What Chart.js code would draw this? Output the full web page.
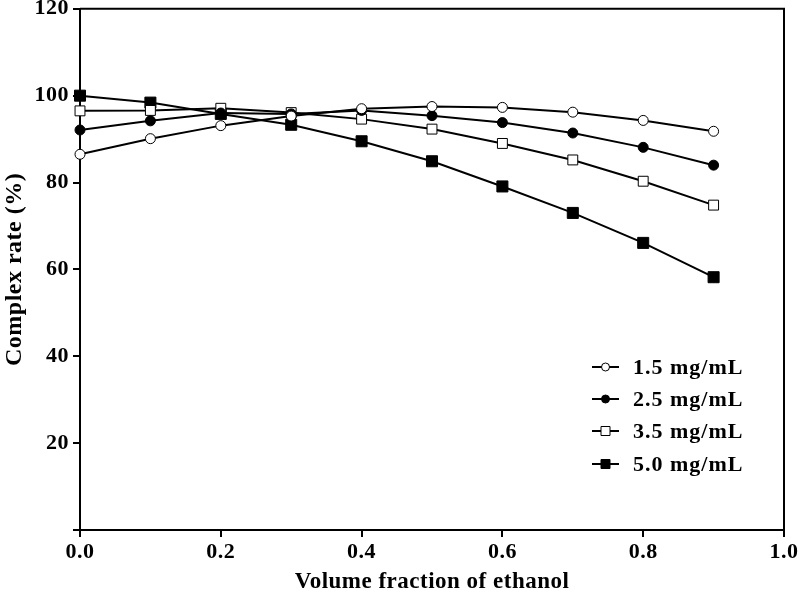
<!DOCTYPE html>
<html>
<head>
<meta charset="utf-8">
<style>
  html, body { margin: 0; padding: 0; background: #fff; }
  #wrap { width: 799px; height: 592px; }
</style>
<script src="https://cdn.jsdelivr.net/npm/chart.js@4/dist/chart.umd.min.js"></script>
</head>
<body>
<div id="wrap"><canvas id="chart" width="799" height="592"></canvas></div>
<script>
// ethanol volume fraction (x)
const fractions = [0.0, 0.1, 0.2, 0.3, 0.4, 0.5, 0.6, 0.7, 0.8, 0.9];

// complex rate (%) per concentration
const conc15 = [86.5, 90.1, 93.1, 95.3, 97.0, 97.5, 97.3, 96.2, 94.3, 91.8];
const conc25 = [92.1, 94.2, 96.0, 95.8, 96.6, 95.4, 93.8, 91.4, 88.1, 84.0];
const conc35 = [96.5, 96.6, 97.1, 96.1, 94.6, 92.3, 89.0, 85.2, 80.3, 74.8];
const conc50 = [100.0, 98.4, 95.8, 93.3, 89.5, 84.9, 79.1, 73.0, 66.1, 58.2];

const seriesLabels = ['1.5 mg/mL', '2.5 mg/mL', '3.5 mg/mL', '5.0 mg/mL'];

const FONT = '"Liberation Serif", "Times New Roman", serif';

function pts(values) {
    return values.map((v, i) => ({ x: fractions[i], y: v }));
}

function makeSet(label, values, style, filled, radius) {
    return {
        label: label,
        data: pts(values),
        borderColor: '#000',
        borderWidth: 2,
        pointStyle: style,
        pointRadius: radius,
        pointHoverRadius: radius,
        pointBackgroundColor: filled ? '#000' : '#fff',
        pointBorderColor: '#000',
        pointBorderWidth: 1,
        fill: false,
        clip: false,
        tension: 0
    };
}

// the printed figure uses slightly spaced lettering
const spacingPlugin = {
    id: 'spacing',
    beforeUpdate(chart) { chart.ctx.letterSpacing = '0.5px'; },
    beforeDraw(chart) { chart.ctx.letterSpacing = '0.5px'; }
};

// frame on top/right + custom legend (line with marker)
const framePlugin = {
    id: 'frame',
    afterDatasetsDraw(chart) {
        const { ctx, chartArea: a } = chart;
        ctx.save();
        ctx.strokeStyle = '#000';
        ctx.lineWidth = 2;
        ctx.beginPath();
        ctx.moveTo(a.left, a.top);
        ctx.lineTo(a.right, a.top);
        ctx.lineTo(a.right, a.bottom);
        ctx.stroke();
        ctx.restore();

        // legend
        const x0 = 592, x1 = 619, tx = 633;
        const ys = [367, 399, 431, 464];
        chart.data.datasets.forEach((ds, i) => {
            const y = ys[i];
            ctx.save();
            ctx.strokeStyle = '#000';
            ctx.lineWidth = 2;
            ctx.beginPath();
            ctx.moveTo(x0, y);
            ctx.lineTo(x1, y);
            ctx.stroke();
            const cx = (x0 + x1) / 2;
            ctx.fillStyle = ds.pointBackgroundColor;
            ctx.lineWidth = 1;
            ctx.beginPath();
            if (ds.pointStyle === 'circle') {
                ctx.arc(cx, y, 4, 0, Math.PI * 2);
            } else {
                ctx.rect(cx - 4.5, y - 4.5, 9, 9);
            }
            ctx.fill();
            ctx.stroke();
            ctx.fillStyle = '#000';
            ctx.font = 'bold 22px ' + FONT;
            ctx.letterSpacing = '1px';
            ctx.textBaseline = 'middle';
            ctx.textAlign = 'left';
            ctx.fillText(ds.label, tx, y + 1);
            ctx.restore();
        });
    }
};

new Chart(document.getElementById('chart').getContext('2d'), {
    type: 'line',
    data: {
        datasets: [
            makeSet(seriesLabels[0], conc15, 'circle', false, 5),
            makeSet(seriesLabels[1], conc25, 'circle', true, 5),
            makeSet(seriesLabels[2], conc35, 'rect', false, 7),
            makeSet(seriesLabels[3], conc50, 'rect', true, 7.8)
        ]
    },
    options: {
        responsive: false,
        animation: false,
        layout: { padding: { top: 7, right: 15, bottom: 0, left: 0 } },
        plugins: {
            legend: { display: false },
            tooltip: { enabled: false }
        },
        scales: {
            x: {
                type: 'linear',
                min: 0,
                max: 1,
                ticks: {
                    stepSize: 0.2,
                    color: '#000',
                    font: { family: FONT, size: 22, weight: 'bold' },
                    padding: 2,
                    maxRotation: 0,
                    callback: v => v.toFixed(1)
                },
                grid: { drawOnChartArea: false, drawTicks: true, tickLength: 7, color: '#000', lineWidth: 2 },
                border: { color: '#000', width: 2 },
                title: {
                    display: true,
                    text: 'Volume fraction of ethanol',
                    color: '#000',
                    font: { family: FONT, size: 23, weight: 'bold', lineHeight: 0.9 },
                    padding: { top: 6, bottom: 0 }
                },
                afterFit: s => { s.height = 62; s.paddingLeft = 0; s.paddingRight = 0; }
            },
            y: {
                min: 0,
                max: 120,
                ticks: {
                    stepSize: 20,
                    color: '#000',
                    font: { family: FONT, size: 22, weight: 'bold' },
                    padding: 4,
                    callback: v => v === 0 ? '' : v
                },
                grid: { drawOnChartArea: false, drawTicks: true, tickLength: 7, color: '#000', lineWidth: 2 },
                border: { color: '#000', width: 2 },
                title: {
                    display: true,
                    text: 'Complex rate (%)',
                    color: '#000',
                    font: { family: FONT, size: 24, weight: 'bold' },
                    padding: { top: 0, bottom: 4 }
                },
                afterFit: s => { s.width = 80; s.paddingTop = 0; s.paddingBottom = 0; }
            }
        }
    },
    plugins: [spacingPlugin, framePlugin]
});
</script>
</body>
</html>
